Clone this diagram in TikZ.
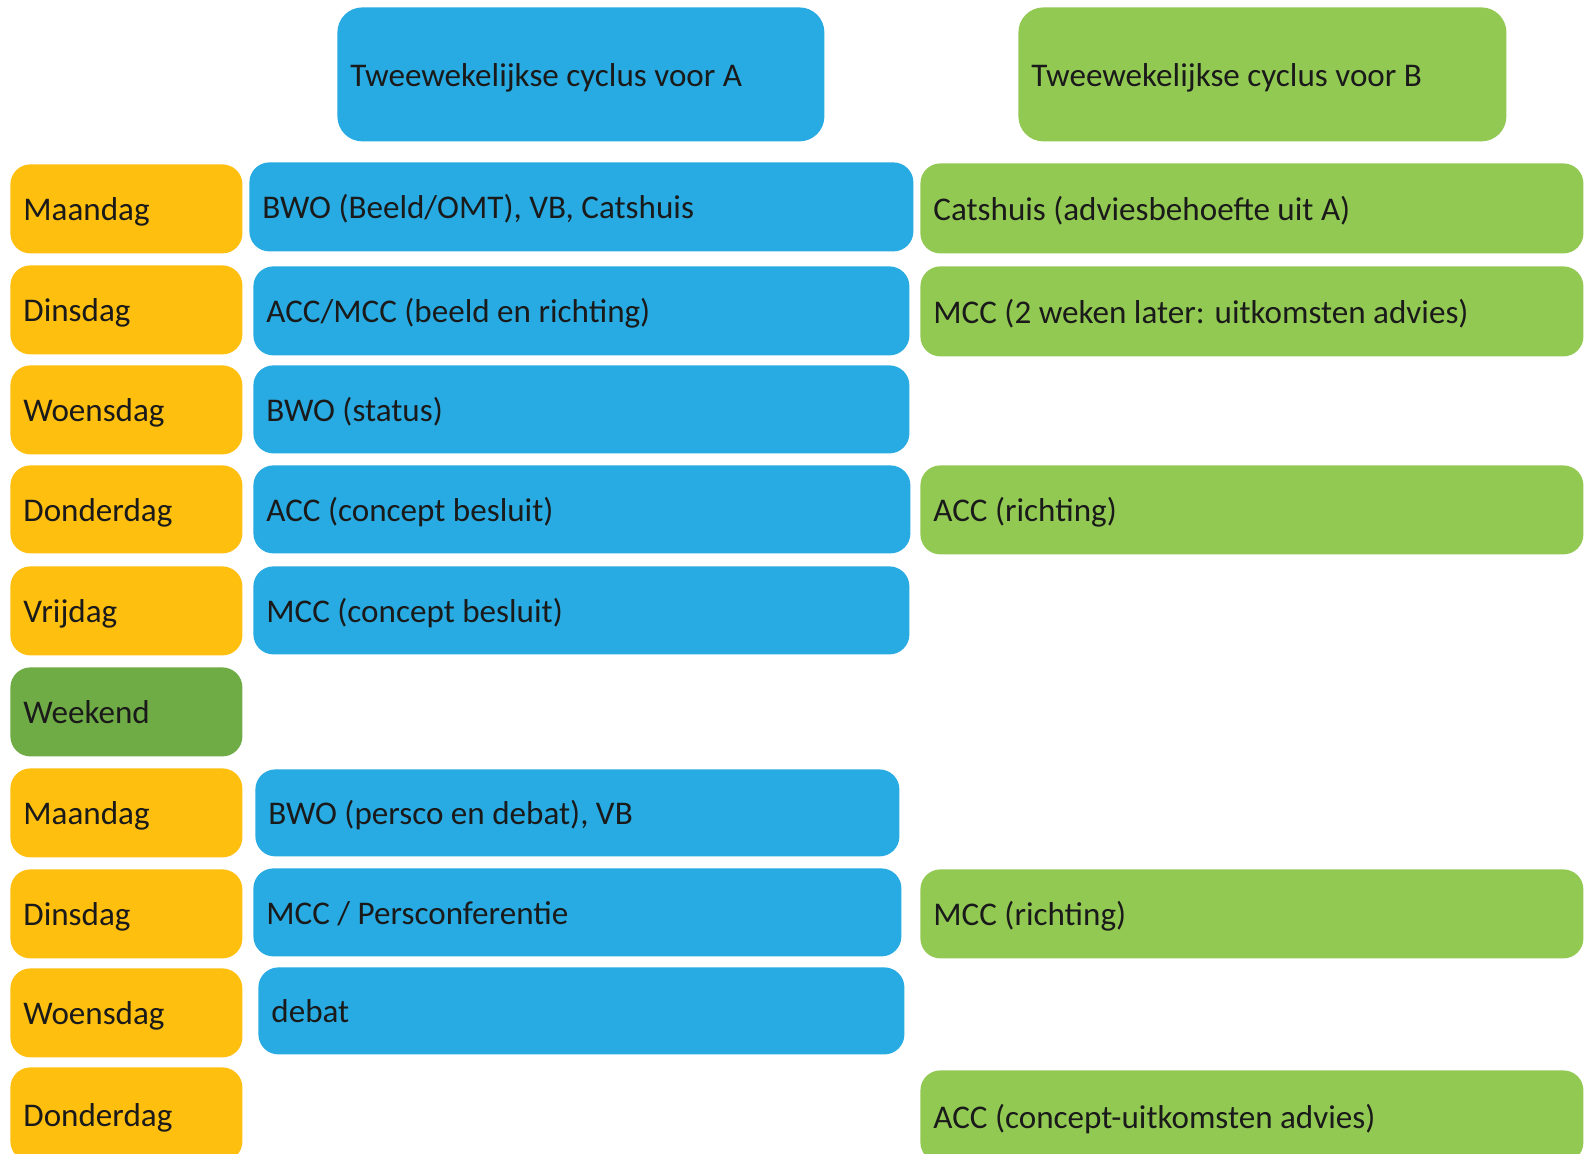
\documentclass[tikz,border=0pt]{standalone}
\usepackage{fontspec}
\setmainfont{Carlito}
\definecolor{cblue}{HTML}{27ABE2}
\definecolor{corange}{HTML}{FFBF0F}
\definecolor{cgreen}{HTML}{92C953}
\definecolor{cweek}{HTML}{6FAC46}
\definecolor{ctext}{HTML}{1A1A1A}
\tikzset{
  cell/.style={rounded corners=10pt, inner xsep=6.5pt, inner ysep=0pt,
    text height=11.8pt, text depth=0pt, text=ctext,
    font=\fontsize{16.55pt}{19pt}\selectfont},
  headcell/.style={cell, rounded corners=12.5pt},
  daycell/.style={cell, fill=corange},
  weekcell/.style={cell, fill=cweek},
  acell/.style={cell, fill=cblue},
  bcell/.style={cell, fill=cgreen},
}
\newcommand\mybox[7]{%
  \pgfmathsetlengthmacro\myBW{(#5-#3)*0.5pt}%
  \pgfmathsetlengthmacro\myBH{(#6-#4)*0.5pt}%
  \pgfmathsetlengthmacro\myTW{(#5-#3)*0.5pt-13pt}%
  \node[#2, minimum width=\myBW, minimum height=\myBH, anchor=north west]
    (#1) at (#3,#4) {\hbox to \myTW{#7\hfil}};}
\begin{document}
\begin{tikzpicture}[x=0.5pt,y=-0.5pt]
\useasboundingbox (0,0) rectangle (1585,1154);
\fill[white] (0,0) rectangle (1585,1154);
\clip (0,0) rectangle (1585,1154);
% headers
\mybox{ha}{headcell, fill=cblue}{337}{7}{824}{141}{Tweewekelijkse cyclus voor A}
\mybox{hb}{headcell, fill=cgreen}{1018}{7}{1506}{141}{Tweewekelijkse cyclus voor B}
% days
\mybox{d1}{daycell}{10}{164}{242}{253}{Maandag}
\mybox{d2}{daycell}{10}{265}{242}{354}{Dinsdag}
\mybox{d3}{daycell}{10}{365}{242}{454}{Woensdag}
\mybox{d4}{daycell}{10}{465}{242}{553}{Donderdag}
\mybox{d5}{daycell}{10}{566}{242}{655}{Vrijdag}
\mybox{d6}{weekcell}{10}{667}{242}{756}{Weekend}
\mybox{d7}{daycell}{10}{768}{242}{857}{Maandag}
\mybox{d8}{daycell}{10}{869}{242}{958}{Dinsdag}
\mybox{d9}{daycell}{10}{968}{242}{1057}{Woensdag}
\mybox{d10}{daycell}{10}{1067}{242}{1161}{Donderdag}
% cycle A
\mybox{a1}{acell}{249}{162}{913}{251}{BWO (Beeld/OMT), VB, Catshuis}
\mybox{a2}{acell}{253}{266}{909}{355}{ACC/MCC (beeld en richting)}
\mybox{a3}{acell}{253}{365}{909}{453}{BWO (status)}
\mybox{a4}{acell}{253}{465}{910}{553}{ACC (concept besluit)}
\mybox{a5}{acell}{253}{566}{909}{654}{MCC (concept besluit)}
\mybox{a7}{acell}{255}{769}{899}{856}{BWO (persco en debat), VB}
\mybox{a8}{acell}{253}{868}{901}{956}{MCC / Persconferentie}
\mybox{a9}{acell}{258}{967}{904}{1054}{debat}
% cycle B
\mybox{b1}{bcell}{920}{163}{1583}{253}{Catshuis (adviesbehoefte uit A)}
\mybox{b2}{bcell}{920}{266}{1583}{356}{MCC (2 weken later: uitkomsten advies)}
\mybox{b4}{bcell}{920}{465}{1583}{554}{ACC (richting)}
\mybox{b8}{bcell}{920}{869}{1583}{958}{MCC (richting)}
\mybox{b10}{bcell}{920}{1070}{1583}{1162}{ACC (concept-uitkomsten advies)}
\end{tikzpicture}
\end{document}
